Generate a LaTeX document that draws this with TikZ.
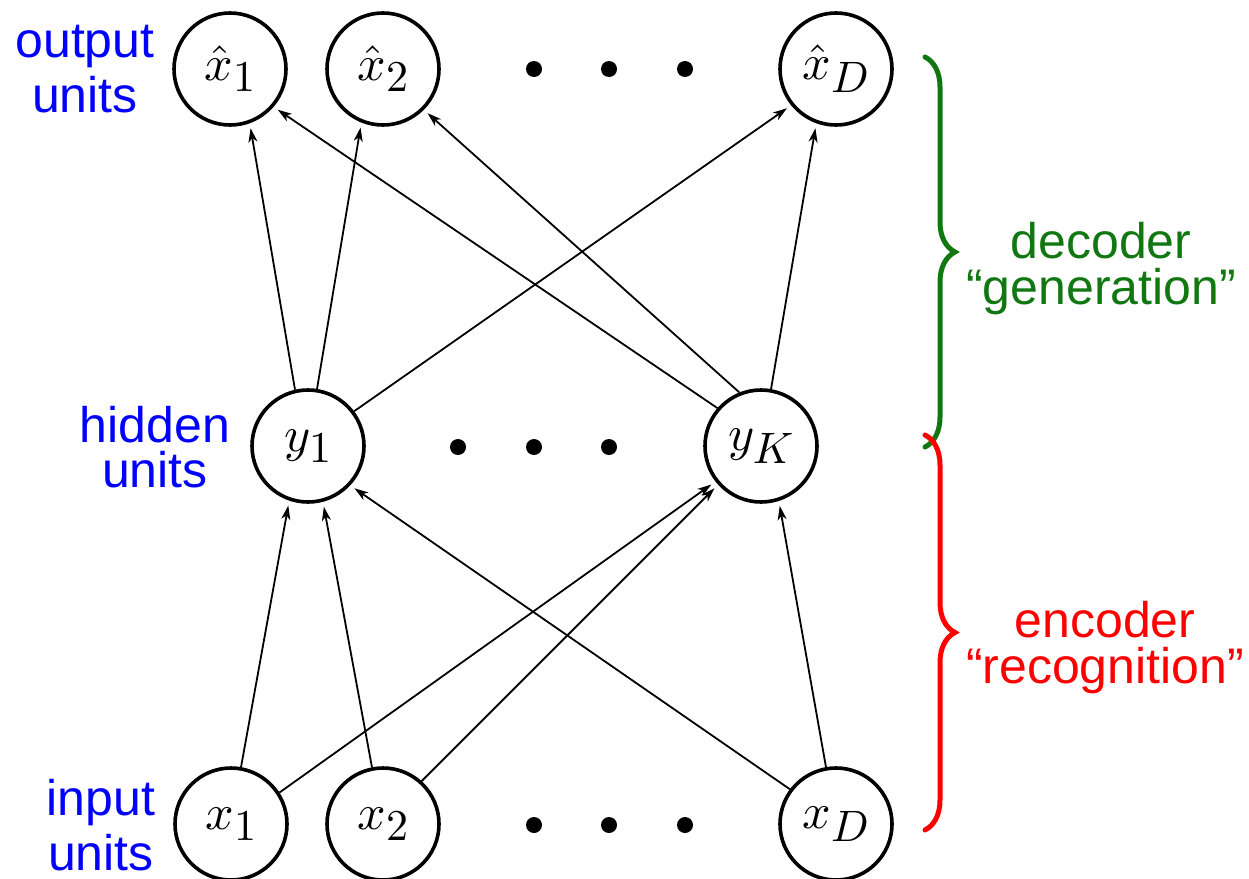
\documentclass[tikz,border=0pt]{standalone}
\usepackage[no-math]{fontspec}
\newfontfamily\labelsans{Liberation Sans}
\usetikzlibrary{arrows.meta,decorations.pathreplacing}
% scalable Computer Modern shapes for large math
\DeclareFontShape{OML}{cmm}{m}{it}{<->cmmi10}{}
\DeclareFontShape{OT1}{cmr}{m}{n}{<->cmr10}{}
\DeclareFontShape{OMS}{cmsy}{m}{n}{<->cmsy10}{}
\DeclareMathSizes{50}{50}{44}{36}
\definecolor{unitblue}{RGB}{0,0,255}
\definecolor{decgreen}{RGB}{17,119,17}
\definecolor{encred}{RGB}{255,0,0}
\begin{document}
\begin{tikzpicture}[x=1pt,y=-1pt,
  neuron/.style={circle,draw,line width=3.6pt,minimum size=112pt,inner sep=0pt,
    font=\fontsize{50}{60}\selectfont},
  link/.style={line width=1.8pt,-{Stealth[length=14pt,width=9pt,inset=4pt]},shorten >=5pt},
  sidetext/.style={font=\labelsans\fontsize{50}{60}\selectfont,inner sep=0pt,anchor=base},
  unitlabel/.style={sidetext,text=unitblue},
  bracepath/.style={decorate,decoration={brace,amplitude=30pt},line width=5pt,line cap=round},
  dot/.style={fill=black}]
\useasboundingbox (0,0) rectangle (1249,878);

% output layer
\node[neuron] (xh1) at (230,69) {$\hat{x}_1$};
\node[neuron] (xh2) at (383,69) {$\hat{x}_2$};
\node[neuron] (xhD) at (836,69) {$\hat{x}_D$};
% hidden layer
\node[neuron] (y1) at (308,446) {$y_1$};
\node[neuron] (yK) at (761,446) {$y_K$};
% input layer
\node[neuron] (x1) at (231,824) {$x_1$};
\node[neuron] (x2) at (383,824) {$x_2$};
\node[neuron] (xD) at (836,824) {$x_D$};

% ellipsis dots
\foreach \dx in {534,609,685} \fill[dot] (\dx,69) circle (8pt);
\foreach \dx in {458,534,609} \fill[dot] (\dx,447) circle (8pt);
\foreach \dx in {534,609,685} \fill[dot] (\dx,825) circle (8pt);

% encoder connections
\draw[link] (x1.80.5) -- (y1.251);
\draw[link] (x2.101.5) -- (y1.285.6);
\draw[link] (xD.143.5) -- (y1.-43.2);
\draw[link] (x1.33.4) -- (yK.218.5);
\draw[link] (x2.48.6) -- (yK.222.5);
\draw[link] (xD.100.5) -- (yK.288.7);

% decoder connections
\draw[link] (y1.103) -- (xh1.290);
\draw[link] (y1.81.9) -- (xh2.248.4);
\draw[link] (y1.37.7) -- (xhD.219.9);
\draw[link] (yK.139.8) -- (xh1.319.3);
\draw[link] (yK.112.4) -- (xh2.315);
\draw[link] (yK.80.9) -- (xhD.250);

% layer labels
\node[unitlabel] (outA) at (85,57) {output};
\node[unitlabel] (outB) at (85,112) {units};
\node[unitlabel] (hidA) at (155,442) {hidden};
\node[unitlabel] (hidB) at (155,487) {units};
\node[unitlabel] (inA) at (101,815) {input};
\node[unitlabel] (inB) at (101,870) {units};

% braces
\draw[bracepath,decgreen] (925,57) -- (925,447);
\draw[bracepath,encred] (925,435) -- (925,830);

\node[sidetext,text=decgreen] (decA) at (1101,258) {decoder};
\node[sidetext,text=decgreen] (decB) at (1101,304) {“generation”};
\node[sidetext,text=encred] (encA) at (1105,637) {encoder};
\node[sidetext,text=encred] (encB) at (1105,683) {“recognition”};
\end{tikzpicture}
\end{document}
